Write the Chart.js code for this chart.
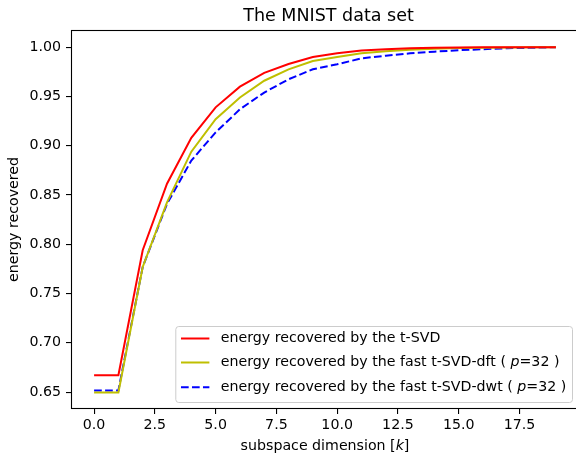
<!DOCTYPE html>
<html>
<head>
<meta charset="utf-8">
<script src="https://cdn.jsdelivr.net/npm/chart.js@4"></script>
<style>
html,body{margin:0;padding:0;overflow:hidden;background:#fff;width:576px;height:460px;}
#wrap{width:580px;height:460px;}
</style>
</head>
<body>
<div id="wrap"><canvas id="c" width="580" height="460"></canvas></div>
<script>
// ---- data ----
const subspaceDims = [0,1,2,3,4,5,6,7,8,9,10,11,12,13,14,15,16,17,18,19];
const energyTSVD = [0.667,0.667,0.794,0.8615,0.908,0.939,0.960,0.974,0.983,0.990,0.994,0.9968,0.998,0.999,0.9995,0.9998,0.9999,1.0,1.0,1.0];
const energyFastDFT = [0.6495,0.6495,0.777,0.8426,0.894,0.927,0.949,0.966,0.9776,0.986,0.990,0.9938,0.996,0.9975,0.9985,0.9992,0.9996,0.9998,0.9999,1.0];
const energyFastDWT = [0.6517,0.6517,0.777,0.841,0.885,0.9135,0.937,0.954,0.9675,0.9776,0.9827,0.9887,0.9914,0.9938,0.9955,0.997,0.998,0.999,0.9995,1.0];
const seriesLabels = [
  'energy recovered by the t-SVD',
  'energy recovered by the fast t-SVD-dft ( $p$=32 )',
  'energy recovered by the fast t-SVD-dwt ( $p$=32 )'
];
const xTickValues = [0,2.5,5,7.5,10,12.5,15,17.5];
const yTickValues = [0.65,0.70,0.75,0.80,0.85,0.90,0.95,1.00];
const chartTitle = 'The MNIST data set';
const xAxisLabel = 'subspace dimension [$k$]';
const yAxisLabel = 'energy recovered';

const FAM = '"DejaVu Sans", sans-serif';
const FS = 14.2;

function toPts(ys){ return subspaceDims.map((x,i)=>({x:x,y:ys[i]})); }

function runsOf(s){ return s.split('$').map((t,i)=>({t:t,it:i%2===1})).filter(r=>r.t.length); }
function runsWidth(ctx, runs, size){
  let w=0; for(const r of runs){ ctx.font=(r.it?'italic ':'')+size+'px '+FAM; w+=ctx.measureText(r.t).width; } return w;
}
function drawRuns(ctx, runs, x, y, size){
  for(const r of runs){ ctx.font=(r.it?'italic ':'')+size+'px '+FAM; ctx.fillText(r.t,x,y); x+=ctx.measureText(r.t).width; }
}

const decor = {
  id:'decor',
  afterDraw(chart){
    const ctx = chart.ctx, a = chart.chartArea;
    ctx.save();
    // frame
    ctx.strokeStyle='#000'; ctx.lineWidth=1.1; ctx.setLineDash([]);
    ctx.strokeRect(a.left+0.5, a.top+0.5, a.right-a.left-1, a.bottom-a.top-1);
    ctx.fillStyle='#000';
    // title
    ctx.textAlign='center'; ctx.textBaseline='alphabetic';
    ctx.font='17.5px '+FAM;
    ctx.fillText(chartTitle, (a.left+a.right)/2 + 3.5, a.top-9);
    // x label
    const xr = runsOf(xAxisLabel);
    const xw = runsWidth(ctx, xr, FS);
    ctx.textAlign='left'; ctx.textBaseline='middle';
    drawRuns(ctx, xr, (a.left+a.right)/2 - xw/2, 446, FS);
    // y label
    ctx.save();
    ctx.translate(14, (a.top+a.bottom)/2);
    ctx.rotate(-Math.PI/2);
    ctx.textAlign='center'; ctx.textBaseline='middle';
    ctx.font=FS+'px '+FAM;
    ctx.fillText(yAxisLabel,0,0);
    ctx.restore();
    // legend
    const runsList = seriesLabels.map(runsOf);
    let maxW = 0; runsList.forEach(r=>{ maxW=Math.max(maxW, runsWidth(ctx,r,FS)); });
    const pad = 0.4*FS, handle = 2*FS, tpad = 0.8*FS;
    const right = a.right - 7, bottom = a.bottom - 7;
    const w = pad*2 + handle + tpad + maxW;
    const h = 76;
    const left = right - w, top = bottom - h;
    ctx.beginPath();
    if (ctx.roundRect) ctx.roundRect(left+0.5, top+0.5, w, h, 3); else ctx.rect(left+0.5, top+0.5, w, h);
    ctx.fillStyle='rgba(255,255,255,0.8)'; ctx.fill();
    ctx.strokeStyle='#cccccc'; ctx.lineWidth=1; ctx.stroke();
    const rowsY = [bottom-63.5, bottom-39.5, bottom-14.7];
    chart.data.datasets.forEach((ds,i)=>{
      const y = rowsY[i];
      ctx.beginPath();
      ctx.strokeStyle = ds.borderColor; ctx.lineWidth = ds.borderWidth;
      ctx.setLineDash(ds.borderDash || []);
      ctx.moveTo(left+pad, y); ctx.lineTo(left+pad+handle, y); ctx.stroke();
      ctx.setLineDash([]);
      ctx.fillStyle='#000'; ctx.textAlign='left'; ctx.textBaseline='middle';
      drawRuns(ctx, runsList[i], left+pad+handle+tpad, y, FS);
    });
    ctx.restore();
  }
};

Chart.defaults.font.family = FAM;
Chart.defaults.font.size = FS;
Chart.defaults.color = '#000';

new Chart(document.getElementById('c'), {
  type:'line',
  data:{
    datasets:[
      {label:seriesLabels[0], data:toPts(energyTSVD), borderColor:'#ff0000', borderWidth:2, pointRadius:0, tension:0, fill:false},
      {label:seriesLabels[1], data:toPts(energyFastDFT), borderColor:'#bfbf00', borderWidth:2, pointRadius:0, tension:0, fill:false},
      {label:seriesLabels[2], data:toPts(energyFastDWT), borderColor:'#0000ff', borderWidth:2, borderDash:[7.7,3.3], pointRadius:0, tension:0, fill:false}
    ]
  },
  options:{
    responsive:false, animation:false, devicePixelRatio:1,
    layout:{padding:{left:0,right:1,top:30,bottom:0}},
    plugins:{legend:{display:false}, title:{display:false}, tooltip:{enabled:false}},
    scales:{
      x:{
        type:'linear', min:-0.95, max:19.95,
        afterBuildTicks(s){ s.ticks = xTickValues.map(v=>({value:v})); },
        afterFit(s){ s.height = 51; },
        ticks:{ callback:v=>v.toFixed(1), padding:3, maxRotation:0, autoSkip:false, color:'#000', font:{size:FS} },
        grid:{ display:true, drawOnChartArea:false, drawTicks:true, tickLength:5, color:'#000', lineWidth:1.1 },
        border:{ display:false }
      },
      y:{
        type:'linear', min:0.6328, max:1.0175,
        afterBuildTicks(s){ s.ticks = yTickValues.map(v=>({value:v})); },
        afterFit(s){ s.width = 71; },
        ticks:{ callback:v=>v.toFixed(2), padding:5, autoSkip:false, color:'#000', font:{size:FS} },
        grid:{ display:true, drawOnChartArea:false, drawTicks:true, tickLength:5, color:'#000', lineWidth:1.1 },
        border:{ display:false }
      }
    }
  },
  plugins:[decor]
});
</script>
</body>
</html>
